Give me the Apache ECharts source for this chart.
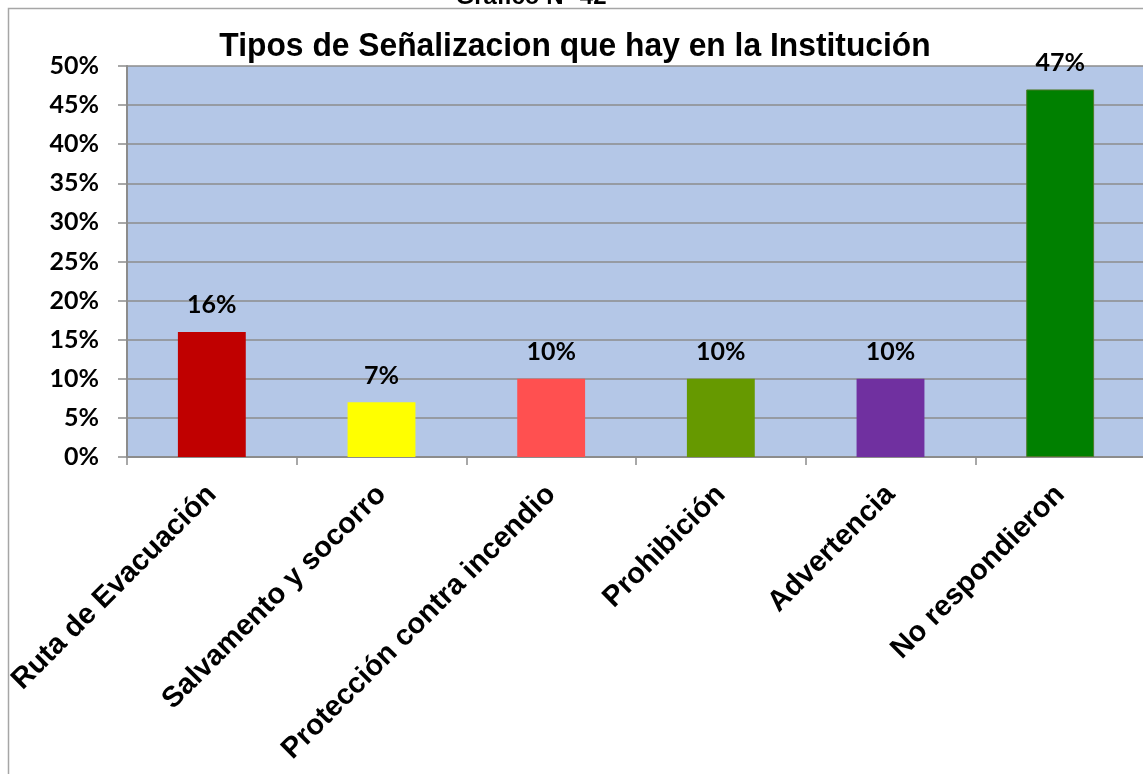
<!DOCTYPE html>
<html>
<head>
<meta charset="utf-8">
<script src="https://cdn.jsdelivr.net/npm/echarts@6/dist/echarts.min.js"></script>
<style>
  html, body { margin: 0; padding: 0; background: #ffffff; }
  #chart { width: 1143px; height: 774px; }
</style>
</head>
<body>
<div id="chart"></div>
<script>
// Survey categories and their share of answers (%)
const categories = [
  'Ruta de Evacuación',
  'Salvamento y socorro',
  'Protección contra incendio',
  'Prohibición',
  'Advertencia',
  'No respondieron'
];
const values = [16, 7, 10, 10, 10, 47];
const barColors = ['#C00000', '#FFFF00', '#FF5050', '#669900', '#7030A0', '#008000'];
const yTicks = [0, 5, 10, 15, 20, 25, 30, 35, 40, 45, 50];
const chartTitle = 'Tipos de Señalizacion que hay en la Institución';
const figureCaption = 'Gráfico N° 42';

const chart = echarts.init(document.getElementById('chart'), null, { renderer: 'canvas' });

chart.setOption({
  animation: false,
  backgroundColor: '#ffffff',
  graphic: [
    {
      // frame of the chart box
      type: 'rect',
      shape: { x: 8.5, y: 8.5, width: 1200, height: 900 },
      style: { fill: 'none', stroke: '#a6a6a6', lineWidth: 1.5 },
      z: 0
    },
    {
      // figure caption above the frame (mostly outside the page)
      type: 'text',
      x: 531,
      y: 9,
      style: {
        text: figureCaption,
        align: 'center',
        verticalAlign: 'bottom',
        font: 'bold 24px "Liberation Sans", Arial, sans-serif',
        fill: '#000000'
      }
    },
    {
      // slightly condensed bold title
      type: 'text',
      x: 575,
      y: 47,
      scaleX: 0.935,
      style: {
        text: chartTitle,
        align: 'center',
        verticalAlign: 'middle',
        font: 'bold 34px "Liberation Sans", Arial, sans-serif',
        fill: '#000000'
      },
      z: 10
    }
  ],
  grid: {
    left: 127,
    right: -2,
    top: 66,
    bottom: 317,
    containLabel: false,
    outerBoundsMode: 'none',
    show: true,
    backgroundColor: '#B4C7E7',
    borderWidth: 0
  },
  xAxis: {
    type: 'category',
    data: categories,
    axisLine: { show: true, lineStyle: { color: '#8c8c8c', width: 2 } },
    axisTick: { show: true, alignWithLabel: false, length: 8, lineStyle: { color: '#8c8c8c', width: 1.5 } },
    axisLabel: {
      rotate: 45,
      margin: 33,
      interval: 0,
      color: '#000000',
      fontFamily: '"Liberation Sans", Arial, sans-serif',
      fontWeight: 'bold',
      fontSize: 29
    }
  },
  yAxis: {
    type: 'value',
    min: 0,
    max: 50,
    interval: 5,
    axisLine: { show: true, lineStyle: { color: '#8c8c8c', width: 2 } },
    axisTick: { show: true, length: 9, lineStyle: { color: '#8c8c8c', width: 1.5 } },
    splitLine: { show: true, lineStyle: { color: '#8c8c8c', width: 1.5 } },
    axisLabel: {
      margin: 28,
      color: '#000000',
      fontFamily: 'Lato, "Open Sans", sans-serif',
      fontWeight: 'bold',
      fontSize: 25,
      formatter: function (v) { return yTicks.indexOf(v) >= 0 ? v + '%' : ''; }
    }
  },
  series: [{
    type: 'bar',
    data: values.map(function (v, i) {
      return {
        value: v,
        itemStyle: {
          color: barColors[i],
          borderColor: i === 5 ? '#4E7A28' : barColors[i],
          borderWidth: i === 5 ? 1 : 0
        }
      };
    }),
    barWidth: '40%',
    label: {
      show: true,
      position: 'top',
      distance: 14,
      formatter: '{c}%',
      color: '#000000',
      fontFamily: 'Lato, "Open Sans", sans-serif',
      fontWeight: 'bold',
      fontSize: 25
    }
  }]
});
</script>
</body>
</html>
